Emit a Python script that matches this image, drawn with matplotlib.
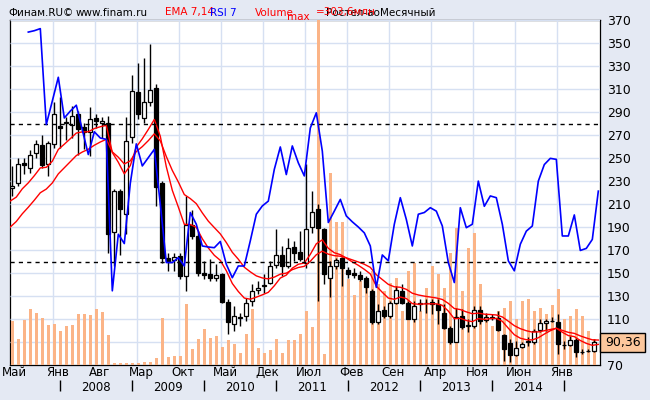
import numpy as np
import matplotlib
matplotlib.use("Agg")
from matplotlib import pyplot as plt
from matplotlib.patches import Rectangle

# месячные свечи, май 2007 - июнь 2015
opens = [224, 228, 246, 241, 254, 261, 245, 262, 278, 280,
         279, 288, 277, 273, 285, 280, 280, 186, 221, 201,
         268, 307.5, 285, 298.5, 311, 228.5, 163, 161.5, 165, 147,
         192, 182, 150, 149.5, 146, 149.5, 125, 106, 112, 113,
         126, 135, 139, 141, 157, 166, 156, 172.7, 168, 159,
         190, 206, 188, 146, 156, 163, 153, 150, 148, 146,
         134, 107, 118, 113, 124, 134, 124, 110, 123, 124,
         125, 123, 115.6, 102, 90, 113, 104, 104, 118, 109,
         111.5, 111, 96, 89, 78.6, 85.5, 90, 89.6, 100.6, 106.7,
         108, 107, 87.5, 87.6, 91.6, 81.5, 82.5, 82.4]
highs = [243, 250, 250, 257, 266, 270, 265, 299, 303, 286,
         295, 291, 280.6, 294, 288, 286, 286.4, 222.7, 222.7, 286,
         322.5, 332.7, 337, 349, 314.4, 230, 167.7, 167, 167.7, 217,
         204.5, 186.5, 160.5, 162, 157.6, 150.4, 127.2, 121.4, 115.6, 128,
         140.2, 143.1, 148.9, 160.5, 188, 173.5, 180.8, 177.9, 186.5, 244.4,
         221.3, 209.7, 189.4, 160.5, 163.4, 164, 155.3, 154.7, 151.8, 147.5,
         135.9, 122.9, 121.4, 125.8, 138.8, 140.2, 125.8, 125.8, 127.2, 127.2,
         127.2, 127.2, 122.9, 104, 120, 118.5, 109.9, 121.4, 121.4, 115.6,
         114, 117.1, 96.8, 92.5, 91.1, 89.6, 94, 101.2, 109.9, 109.9,
         111.9, 114.2, 91.1, 95.4, 93.9, 84, 84, 92.5]
lows = [217, 226, 236, 237, 250, 241.5, 234, 259, 259, 266,
        267.5, 253, 257.4, 251.6, 276, 267.5, 167.7, 156, 166, 183.6,
        263, 283.5, 280.6, 295, 208, 159, 151.8, 152, 144.6, 134,
        179.3, 147.5, 144.6, 143, 143, 124.3, 96.8, 99.7, 104, 108.4,
        121.4, 131.6, 133, 140.2, 154.7, 147.5, 154.7, 160.5, 160.5, 154.7,
        185, 125.8, 140.2, 129.2, 153.3, 138.8, 146, 146, 143, 133,
        105.5, 105.5, 111.3, 111.3, 122.9, 122.9, 109.9, 107.8, 117, 115.6,
        114.2, 105.5, 101.2, 88.2, 89.6, 101.2, 98.3, 102.6, 105.5, 107,
        109, 99.7, 73.7, 72.2, 78, 84.4, 86.7, 88.2, 98.3, 99.7,
        107, 79.5, 83.8, 86.7, 76.6, 79.5, 81, 81]
closes = [226, 245, 244, 253, 262, 243.5, 263, 288, 276, 281,
          286.6, 275.6, 273, 284, 282, 282, 184, 221, 206, 265,
          308, 288, 299, 309.5, 225, 163, 160.5, 164, 147, 192,
          182, 150, 148, 146, 148, 125, 107.5, 113, 111, 124,
          134.5, 137, 140, 156, 165.7, 156, 172, 167.7, 162, 188.6,
          203, 189, 149.5, 156, 161, 154, 149.5, 148, 144.6, 137.4,
          107, 117, 113, 124, 135, 124, 110, 121, 124, 123.5,
          123, 118, 102, 90, 112, 103, 104.5, 118, 108, 112,
          111, 100.6, 84, 79, 84.4, 88, 91, 99.7, 106.4, 108.4,
          108.5, 88, 87, 92, 81, 81.5, 82, 90.36]

# объём, млн
volume = [38.3, 23.3, 40, 48.9, 46.2, 41.8, 35, 35.9, 30, 33.9,
          35, 44.7, 44.7, 43.8, 48.9, 46.5, 26.3, 1.5, 1.5, 1.8,
          1.8, 2, 3, 2.5, 6, 41.8, 6.7, 7.6, 8.1, 53.5,
          14, 22.8, 31.6, 23.7, 25.7, 15.5, 21.9, 18.4, 11, 27.7,
          49.2, 14.6, 11, 13.4, 22.5, 11, 21.9, 21.9, 27.7, 47.7,
          33.6, 303.6, 10, 169.2, 126, 126, 75.5, 61.4, 74, 75.5,
          82.8, 71, 65.2, 72.6, 77, 47.6, 82.8, 90, 47.7, 67.5,
          87.2, 80.4, 67.5, 98.9, 120.2, 65.3, 102.7, 116.5, 71.6, 44.7,
          34.4, 47.7, 50.6, 55.9, 40.4, 56.5, 58.5, 47.7, 50.6, 44.7,
          53, 66.7, 40.4, 43.3, 49.1, 43.3, 30, 22.8]
vol_max = 303.6

# EMA 7 и 14, с месяца перед первой свечой
ema7 = [212.6, 216.0, 223.2, 228.4, 234.6, 241.4, 241.9, 247.2, 257.4, 262.0,
        266.8, 271.7, 272.7, 272.8, 275.6, 277.2, 278.4, 254.8, 246.3, 236.2,
        243.4, 259.6, 266.7, 274.8, 283.5, 268.9, 242.4, 221.9, 207.4, 192.3,
        192.2, 189.7, 179.8, 171.8, 165.4, 161.0, 152.0, 140.9, 133.9, 128.2,
        127.2, 129.0, 131.0, 133.2, 138.9, 145.6, 148.2, 154.2, 157.6, 158.7,
        166.2, 175.4, 178.8, 171.5, 167.6, 166.0, 163.0, 159.6, 156.7, 153.2,
        149.2, 138.6, 133.2, 128.2, 127.1, 129.1, 127.8, 123.4, 122.8, 123.1,
        123.2, 123.2, 121.9, 116.9, 110.2, 110.6, 108.7, 107.7, 110.3, 109.7,
        110.3, 110.5, 108.0, 102.0, 96.3, 93.3, 92.0, 91.8, 93.7, 96.9,
        99.8, 102.0, 98.5, 95.6, 94.7, 91.3, 88.8, 87.1, 87.9]
ema14 = [190.0, 194.8, 201.5, 207.2, 213.3, 219.8, 223.0, 228.3, 236.2, 241.5,
         246.8, 252.1, 255.2, 257.6, 261.1, 263.9, 266.3, 255.3, 250.7, 244.8,
         247.5, 255.6, 259.9, 265.1, 271.0, 264.9, 251.3, 239.2, 229.2, 218.2,
         214.7, 210.3, 202.3, 195.1, 189.5, 184.0, 176.5, 168.0, 162.0, 155.0,
         151.0, 147.5, 145.7, 144.9, 146.4, 149.0, 149.9, 152.9, 154.8, 155.8,
         160.2, 165.9, 169.0, 166.4, 165.1, 164.6, 163.2, 161.4, 159.6, 157.6,
         154.9, 148.5, 144.3, 140.1, 138.0, 137.6, 135.8, 132.4, 130.9, 129.9,
         129.1, 128.3, 127.0, 123.6, 119.1, 118.2, 116.2, 114.6, 115.1, 114.2,
         113.9, 113.5, 111.8, 108.1, 104.2, 101.6, 99.8, 98.6, 98.8, 99.8,
         100.9, 101.9, 100.1, 98.4, 97.5, 95.3, 93.5, 91.9, 91.7]

# RSI 7, начинается с третьей свечи
rsi_first = 2
rsi7 = [96.5, 96.9, 97.5, 69.7, 76.5, 83.4, 71.6, 73.6, 75.3, 68.2,
        61.0, 67.6, 65.8, 65.4, 21.5, 37.9, 35.2, 52.7, 64.1, 57.7,
        60.1, 62.5, 46.6, 29.7, 29.7, 31.1, 28.7, 44.2, 40.8, 34.5,
        34.2, 34.0, 35.8, 29.2, 25.3, 28.7, 28.7, 36.0, 43.7, 46.1,
        47.5, 56.7, 63.2, 55.2, 63.5, 58.6, 54.8, 68.7, 73.1, 62.0,
        41.3, 44.6, 48.0, 43.2, 41.5, 40.0, 38.3, 34.5, 22.5, 31.9,
        30.2, 40.8, 48.5, 42.2, 34.5, 43.7, 44.2, 45.6, 44.6, 40.3,
        29.7, 23.9, 45.6, 39.8, 40.8, 53.3, 46.0, 49.0, 48.5, 40.8,
        30.2, 27.3, 35.0, 38.8, 40.3, 53.3, 58.1, 59.9, 59.6, 37.4,
        37.4, 43.5, 33.2, 33.8, 36.4, 50.4]
rsi_levels = [30, 70]

price_ticks = [70, 90, 110, 130, 150, 170, 190, 210, 230, 250, 270, 290, 310, 330, 350, 370]
month_labels = ["Май", "Янв", "Авг", "Мар", "Окт", "Май", "Дек",
                "Июл", "Фев", "Сен", "Апр", "Ноя", "Июн", "Янв"]
year_labels = ["2008", "2009", "2010", "2011", "2012", "2013", "2014"]
last_price = "90,36"

W, H = 650, 400
bg = "#e4e9f3"
grid_c = "#d6e0f2"
vol_c = "#fbb487"


def px(x, y):
    return x / W, 1 - y / H


fig = plt.figure(figsize=(6.5, 4), dpi=100, facecolor=bg)
ax = fig.add_axes([10 / W, 35 / H, 590 / W, 345 / H])
ax.set_facecolor("white")
xmin, xmax = -0.38, 97.95
ax.set_xlim(xmin, xmax)
ax.set_ylim(70, 370)

n = len(closes)
x = np.arange(n)
grid_x = [6.8 + 7 * j for j in range(13)]

# объём (на этом же слое и сетка)
ax_v = ax.twinx()
ax_v.set_ylim(0, vol_max)
ax_v.axis("off")
ax_v.set_xlim(xmin, xmax)
grid_y = [(t - 70) / 300 for t in price_ticks]
ax_v.hlines(grid_y, 0, 1, transform=ax_v.transAxes, color=grid_c, lw=1, zorder=0)
ax_v.vlines(grid_x, 0, 1, transform=ax_v.get_xaxis_transform(), color=grid_c,
            lw=1, zorder=0)
ax_v.bar(x, volume, width=0.5, color=vol_c, linewidth=0, zorder=1)

# свечи и EMA
ax_p = ax.twinx()
ax_p.set_ylim(70, 370)
ax_p.axis("off")
o = np.array(opens)
c = np.array(closes)
up = c >= o
ax_p.vlines(x, lows, highs, color="black", lw=1, zorder=2)
ax_p.bar(x, np.abs(c - o), bottom=np.minimum(o, c), width=0.7,
         color=np.where(up, "white", "black"), edgecolor="black",
         linewidth=0.9, zorder=3)
ema_x = np.arange(-1, n) + 0.67
ax_p.plot(ema_x, ema7, color="#ff0000", lw=1, zorder=4)
ax_p.plot(ema_x, ema14, color="#ff0000", lw=1, zorder=4)

# RSI
ax_r = ax.twinx()
ax_r.set_ylim(0, 100)
ax_r.axis("off")
for lv in rsi_levels:
    ax_r.axhline(lv, color="black", lw=1, ls=(0, (3, 3)), zorder=1)
rsi_x = np.arange(rsi_first, rsi_first + len(rsi7)) + 0.67
ax_r.plot(rsi_x, rsi7, color="#0000ff", lw=1.2, zorder=5)
for a in (ax_p, ax_r):
    a.set_xlim(xmin, xmax)

# шкала цены справа (после twinx, он переносит тики влево)
ax.set_yticks(price_ticks)
# метку 90 закрывает плашка с последней ценой
ax.set_yticklabels(["" if t == 90 else str(t) for t in price_ticks])
ax.set_xticks([])
ax.yaxis.tick_right()
ax.tick_params(axis="y", which="both", length=0, pad=5, labelsize=9,
               left=False, labelleft=False, right=True, labelright=True)
for s in ax.spines.values():
    s.set_color("black")
    s.set_linewidth(0.9)

# подписи по оси времени
tx = ax.get_xaxis_transform()
for pos, lab in zip([-0.33] + grid_x, month_labels):
    ax.text(pos + 0.7, -0.023, lab, transform=tx, ha="center", va="center",
            fontsize=8.5, clip_on=False)
for j, lab in enumerate(year_labels):
    ax.text(14 + 12 * j, -0.064, lab, transform=tx, ha="center", va="center",
            fontsize=8.5, clip_on=False)
ax.vlines([8 + 12 * j for j in range(8)], -0.044, -0.075, transform=tx,
          color="black", lw=1, clip_on=False)

# шапка
hdr = 7.5
fig.text(*px(8, 12.5), "Финам.RU©", fontsize=hdr, va="center")
fig.text(*px(76, 12.5), "www.finam.ru", fontsize=hdr, va="center")
fig.text(*px(165, 12.5), "EMA 7,14", fontsize=hdr, va="center", color="red")
fig.text(*px(210, 12.5), "RSI 7", fontsize=hdr, va="center", color="blue")
fig.text(*px(326, 12.5), "Ростел-ао", fontsize=hdr, va="center")
fig.text(*px(380, 12.5), "Месячный", fontsize=hdr, va="center")
fig.text(*px(255, 12.5), "Volume", fontsize=hdr, va="center", color="red")
fig.text(*px(287, 16.5), "max", fontsize=hdr, va="center", color="red")
fig.text(*px(316, 12.5), "=303,6млн", fontsize=hdr, va="center", color="red")

# текущая цена
fig.patches.append(Rectangle(px(600, 352), 45 / W, 19 / H, transform=fig.transFigure,
                             facecolor="#fcc79c", edgecolor="black", lw=1))
fig.text(*px(623, 342.5), last_price, fontsize=9, ha="center", va="center")

fig.savefig("out.png", dpi=100, facecolor=bg)
